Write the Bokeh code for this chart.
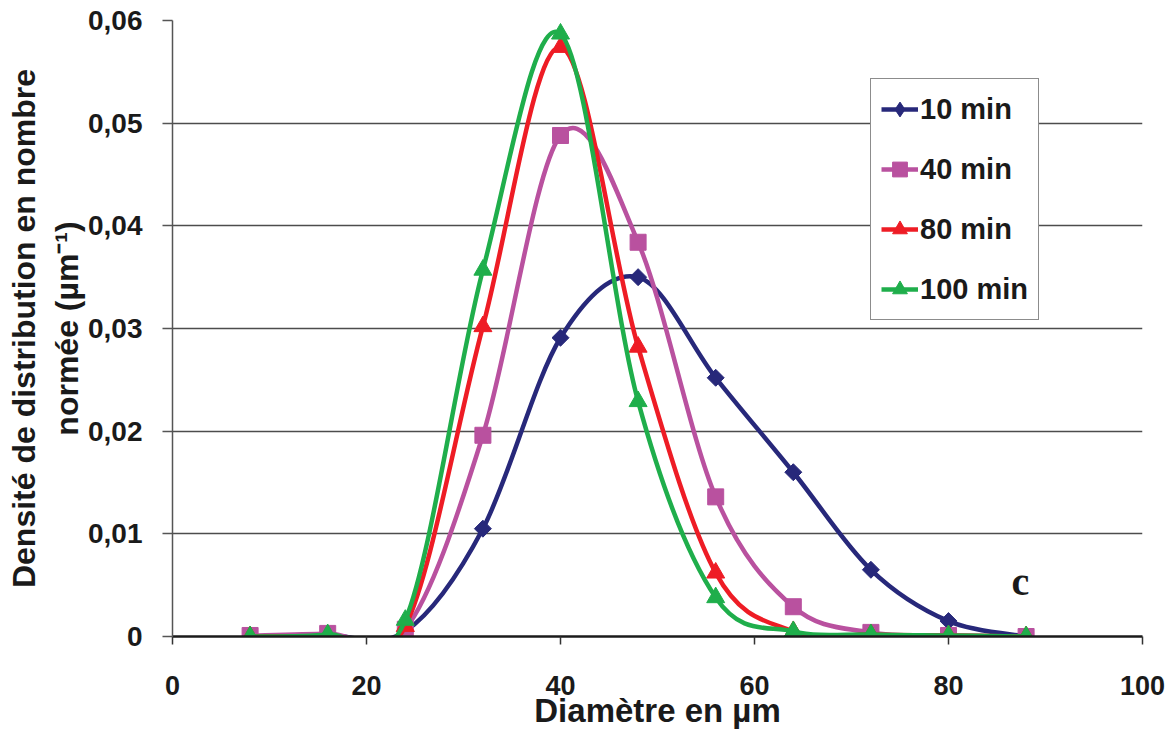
import numpy as np
from bokeh.plotting import figure
from bokeh.models import FixedTicker, Legend, LegendItem, Label
from bokeh.embed import file_html
from bokeh.resources import INLINE

# ---- data ----
diam = [8, 16, 24, 32, 40, 48, 56, 64, 72, 80, 88]
s10 = [0.0, 0.0001, 0.0005, 0.0105, 0.0291, 0.0350, 0.0252, 0.0160, 0.0065, 0.0015, 0.0]
s40 = [0.0001, 0.0003, 0.0007, 0.0196, 0.0488, 0.0384, 0.0136, 0.0029, 0.0004, 0.0001, 0.0]
s80 = [0.0, 0.0001, 0.0010, 0.0302, 0.0574, 0.0282, 0.0062, 0.0005, 0.0002, 0.0001, 0.0]
s100 = [0.0, 0.0002, 0.0016, 0.0357, 0.0587, 0.0229, 0.0038, 0.0005, 0.0002, 0.0001, 0.0]
series_names = ["10 min", "40 min", "80 min", "100 min"]
x_ticks = [0, 20, 40, 60, 80, 100]
x_tick_labels = ["0", "20", "40", "60", "80", "100"]
y_ticks = [0, 0.01, 0.02, 0.03, 0.04, 0.05, 0.06]
y_tick_labels = ["0", "0,01", "0,02", "0,03", "0,04", "0,05", "0,06"]

FONT = "Liberation Sans"

p = figure(width=1170, height=731, x_range=(0, 100), y_range=(0, 0.06),
           output_backend="svg", toolbar_location=None,
           min_border_left=172, min_border_right=28, min_border_top=20, min_border_bottom=93)
p.outline_line_color = None
p.background_fill_color = "white"
p.border_fill_color = "white"

p.xgrid.visible = False
p.ygrid.ticker = FixedTicker(ticks=y_ticks)
p.ygrid.grid_line_color = "#4d4d4d"
p.ygrid.grid_line_width = 1.3

p.xaxis.ticker = FixedTicker(ticks=x_ticks)
p.xaxis.major_label_overrides = {t: l for t, l in zip(x_ticks, x_tick_labels)}
p.yaxis.ticker = FixedTicker(ticks=y_ticks)
p.yaxis.major_label_overrides = {t: l for t, l in zip(y_ticks, y_tick_labels)}

for ax in (p.xaxis, p.yaxis):
    ax.minor_tick_line_color = None
    ax.major_label_text_font = FONT
    ax.major_label_text_font_style = "bold"
    ax.major_label_text_color = "#1a1a1a"
    ax.major_label_text_font_size = "27px"
    ax.axis_label_text_font = FONT
    ax.axis_label_text_font_style = "bold"
    ax.axis_label_text_color = "#1a1a1a"
    ax.major_tick_in = 0

p.yaxis.major_label_text_font_size = "28px"

p.xaxis.axis_line_color = "#1a1a1a"
p.xaxis.axis_line_width = 2.5
p.xaxis.major_tick_line_color = "#333333"
p.xaxis.major_tick_line_width = 1.5
p.xaxis.major_tick_out = 8
p.xaxis.major_label_standoff = 31
p.xaxis.axis_label = "Diamètre en µm"
p.xaxis.axis_label_text_font_size = "33px"
p.xaxis.axis_label_standoff = -6

p.yaxis.axis_line_color = "#555555"
p.yaxis.axis_line_width = 1.5
p.yaxis.major_tick_line_color = "#555555"
p.yaxis.major_tick_line_width = 1.5
p.yaxis.major_tick_out = 10
p.yaxis.major_label_standoff = 20
p.yaxis.axis_label = "Densité de distribution en nombre\nnormée (µm⁻¹)"
p.yaxis.axis_label_text_font_size = "32px"
p.yaxis.axis_label_standoff = 0


def excel_bezier(xs, ys):
    n = len(xs)
    out = {k: [] for k in ("x0", "y0", "x1", "y1", "cx0", "cy0", "cx1", "cy1")}
    for i in range(n - 1):
        a = i - 1 if i > 0 else i
        d = i + 2 if i + 2 < n else i + 1
        out["x0"].append(xs[i]); out["y0"].append(ys[i])
        out["x1"].append(xs[i + 1]); out["y1"].append(ys[i + 1])
        out["cx0"].append(xs[i] + (xs[i + 1] - xs[a]) / 6.0)
        out["cy0"].append(ys[i] + (ys[i + 1] - ys[a]) / 6.0)
        out["cx1"].append(xs[i + 1] - (xs[d] - xs[i]) / 6.0)
        out["cy1"].append(ys[i + 1] - (ys[d] - ys[i]) / 6.0)
    return out


styles = [
    (s10, "#27287a", "square", np.pi / 4, 12, "diamond"),
    (s40, "#b9519f", "square", 0, 16, "square"),
    (s80, "#ee1c25", "triangle", 0, 18, "triangle"),
    (s100, "#1fae4b", "triangle", 0, 18, "triangle"),
]

nan = np.array([np.nan])
items = []
for (ys, col, mk, ang, sz, lmk), name in zip(styles, series_names):
    b = excel_bezier(diam, ys)
    p.bezier(x0=b["x0"], y0=b["y0"], x1=b["x1"], y1=b["y1"],
             cx0=b["cx0"], cy0=b["cy0"], cx1=b["cx1"], cy1=b["cy1"],
             line_color=col, line_width=4.5)
    p.scatter(diam, ys, marker=mk, angle=ang, size=sz,
              fill_color=col, line_color=col)
    # renderers used only to draw the legend swatches
    ln = p.line(x=nan, y=nan, line_color=col, line_width=4.5)
    lsc = p.scatter(x=nan, y=nan, marker=lmk, fill_color=col, line_color=col)
    items.append(LegendItem(label=name, renderers=[ln, lsc]))

legend = Legend(items=items, location=(698, 316))
legend.label_text_font = FONT
legend.label_text_font_style = "bold"
legend.label_text_font_size = "29px"
legend.label_text_color = "#1a1a1a"
legend.glyph_width = 37
legend.glyph_height = 40
legend.label_height = 40
legend.spacing = 20
legend.padding = 10
legend.margin = 0
legend.label_standoff = 2
legend.border_line_color = "#1a1a1a"
legend.border_line_width = 1.3
legend.background_fill_color = "white"
legend.background_fill_alpha = 1.0
p.add_layout(legend)

p.add_layout(Label(x=87.4, y=0.0054, text="c", text_align="center",
                   text_baseline="alphabetic", text_font="Liberation Serif",
                   text_font_style="bold", text_font_size="40px", text_color="#1a1a1a"))

open("out.html", "w").write(file_html(p, INLINE))
